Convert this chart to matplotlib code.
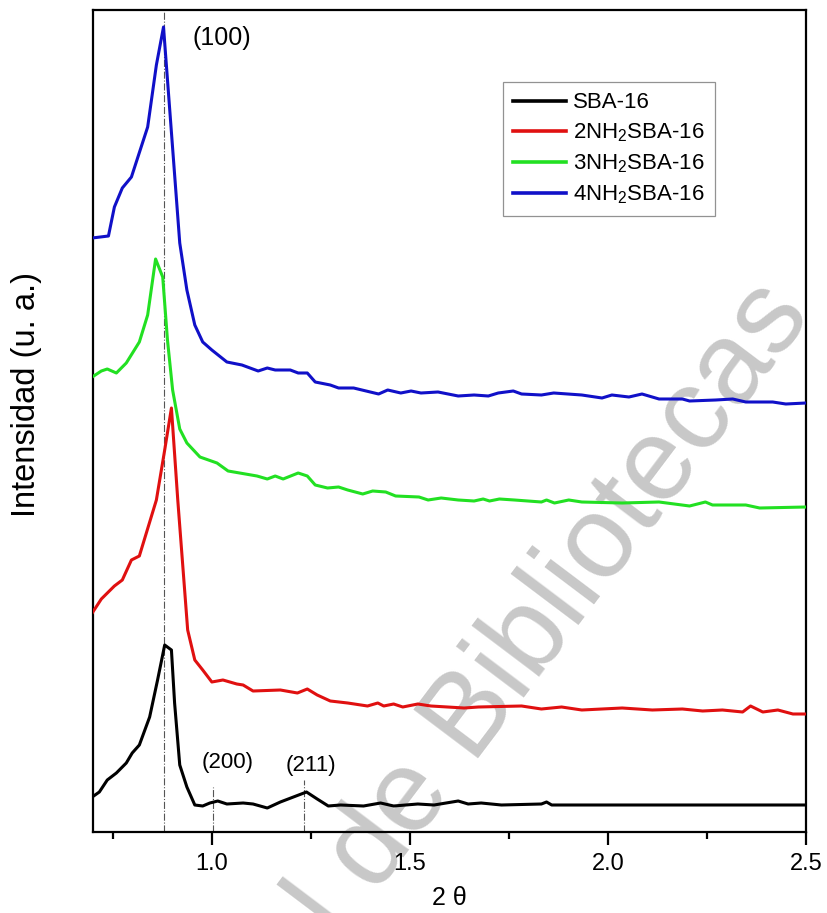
import matplotlib
matplotlib.use("Agg")
import matplotlib.pyplot as plt
from matplotlib.ticker import MultipleLocator

plt.rcParams['font.family'] = ['Liberation Sans', 'DejaVu Sans']
plt.rcParams['mathtext.default'] = 'regular'

# ---- data (2theta, intensity in arbitrary units) ----
x_4nh2 = [0.698, 0.739, 0.754, 0.774, 0.797, 0.838, 0.860, 0.878, 0.919, 0.937,
          0.957, 0.977, 1.000, 1.038, 1.076, 1.117, 1.140, 1.160, 1.198, 1.218,
          1.241, 1.261, 1.299, 1.320, 1.358, 1.421, 1.444, 1.477, 1.503, 1.528,
          1.571, 1.622, 1.662, 1.698, 1.723, 1.761, 1.782, 1.832, 1.863, 1.934,
          1.985, 2.010, 2.053, 2.086, 2.129, 2.188, 2.206, 2.272, 2.315, 2.348,
          2.416, 2.449, 2.500]
y_4nh2 = [594, 596, 625, 644, 655, 705, 767, 805, 589, 542,
          507, 490, 482, 470, 467, 461, 464, 462, 462, 459,
          459, 450, 447, 444, 444, 438, 442, 439, 441, 439,
          440, 436, 437, 436, 439, 441, 438, 437, 439, 437,
          434, 437, 435, 438, 433, 433, 431, 432, 433, 430,
          430, 428, 429]

x_3nh2 = [0.698, 0.721, 0.736, 0.759, 0.784, 0.817, 0.838, 0.858, 0.876, 0.888,
          0.901, 0.919, 0.937, 0.970, 1.013, 1.041, 1.114, 1.140, 1.160, 1.180,
          1.218, 1.241, 1.261, 1.292, 1.320, 1.343, 1.381, 1.406, 1.439, 1.464,
          1.523, 1.546, 1.579, 1.622, 1.662, 1.685, 1.701, 1.726, 1.764, 1.832,
          1.845, 1.865, 1.901, 1.934, 2.036, 2.129, 2.206, 2.246, 2.264, 2.348,
          2.383, 2.500]
y_3nh2 = [455, 461, 463, 459, 469, 490, 517, 573, 555, 492,
          442, 403, 389, 375, 369, 361, 356, 353, 356, 353,
          359, 356, 347, 344, 345, 342, 338, 341, 340, 336,
          335, 332, 334, 332, 331, 333, 331, 333, 332, 330,
          332, 329, 332, 330, 329, 330, 326, 330, 327, 327,
          324, 325]

x_2nh2 = [0.698, 0.721, 0.754, 0.774, 0.797, 0.817, 0.860, 0.881, 0.898, 0.914,
          0.939, 0.957, 0.977, 1.000, 1.028, 1.063, 1.079, 1.104, 1.173, 1.216,
          1.241, 1.266, 1.299, 1.343, 1.393, 1.419, 1.434, 1.459, 1.482, 1.520,
          1.553, 1.637, 1.673, 1.782, 1.832, 1.883, 1.934, 1.985, 2.036, 2.112,
          2.188, 2.239, 2.289, 2.340, 2.360, 2.391, 2.429, 2.467, 2.500]
y_2nh2 = [219, 233, 246, 252, 272, 276, 332, 382, 424, 332,
          202, 172, 162, 150, 152, 148, 147, 141, 142, 139,
          143, 137, 131, 129, 126, 129, 126, 128, 125, 128,
          126, 124, 125, 126, 123, 125, 122, 123, 124, 122,
          123, 121, 122, 120, 126, 120, 122, 118, 118]

x_sba = [0.698, 0.716, 0.736, 0.759, 0.784, 0.799, 0.817, 0.843, 0.863, 0.881,
         0.898, 0.906, 0.919, 0.937, 0.957, 0.977, 0.995, 1.015, 1.038, 1.079,
         1.104, 1.140, 1.173, 1.206, 1.239, 1.266, 1.294, 1.325, 1.383, 1.426,
         1.459, 1.520, 1.561, 1.622, 1.647, 1.680, 1.731, 1.832, 1.845, 1.858,
         1.985, 2.239, 2.500]
y_sba = [35, 40, 52, 59, 69, 79, 87, 115, 152, 187,
         182, 129, 67, 45, 27, 26, 29, 31, 28, 29,
         28, 24, 30, 35, 40, 33, 26, 27, 26, 29,
         26, 28, 27, 31, 28, 29, 27, 28, 30, 27,
         27, 27, 27]

labels = ['SBA-16', '2NH$_2$SBA-16', '3NH$_2$SBA-16', '4NH$_2$SBA-16']
colors = ['#000000', '#e01010', '#22e022', '#1010c8']

# reflections: position, label, label x, label y, line top
refl_pos = [0.878, 1.003, 1.233]
refl_lab = ['(100)', '(200)', '(211)']
refl_lab_x = [1.025, 1.040, 1.249]
refl_lab_y = [794, 70, 67]
refl_top = [822, 45, 52]

fig = plt.figure(figsize=(8.27, 9.13), dpi=100)
ax = fig.add_axes([93/827, 81/913, 713/827, 822/913])
ax.patch.set_visible(False)

# watermark of the source document
fig.text(435/827, 1 - 765/913, 'General de Bibliotecas', fontsize=84,
         color='#c8c8c8', rotation=53, ha='center', va='center',
         rotation_mode='anchor', zorder=-1)

series = [(x_sba, y_sba), (x_2nh2, y_2nh2), (x_3nh2, y_3nh2), (x_4nh2, y_4nh2)]
for (xs, ys), lab, c in zip(series, labels, colors):
    ax.plot(xs, ys, color=c, lw=2.2, label=lab, zorder=3)

for p, t, lx, ly, top in zip(refl_pos, refl_lab, refl_lab_x, refl_lab_y, refl_top):
    ax.plot([p, p], [0, top], color='#555555', lw=0.8, ls='-.', zorder=2)
    ax.text(lx, ly, t, ha='center', va='center',
            fontsize=18 if t == '(100)' else 16)

ax.set_xlim(0.7, 2.5)
ax.set_ylim(0, 822)
ax.xaxis.set_minor_locator(MultipleLocator(0.25))
ax.set_xticks([1.0, 1.5, 2.0, 2.5])
ax.set_xticklabels(['1.0', '1.5', '2.0', '2.5'])
ax.tick_params(axis='x', which='major', direction='out', length=9, width=1.6,
               labelsize=17, pad=6)
ax.tick_params(axis='x', which='minor', direction='out', length=5, width=1.6)
ax.set_yticks([])
for s in ax.spines.values():
    s.set_linewidth(1.6)

ax.set_xlabel('2 θ', fontsize=18, labelpad=8)
ax.set_ylabel('Intensidad (u. a.)', fontsize=23.5)
ax.yaxis.set_label_coords(-0.071, 0.532)

leg = ax.legend(loc='upper left', bbox_to_anchor=(0.575, 0.912), fontsize=16,
                frameon=True, fancybox=False, edgecolor='#777777',
                handlelength=2.4, handletextpad=0.3, labelspacing=0.38,
                borderpad=0.45, borderaxespad=0)
leg.get_frame().set_linewidth(0.9)
for lh in leg.get_lines():
    lh.set_linewidth(2.6)

fig.savefig('out.png', dpi=100)
